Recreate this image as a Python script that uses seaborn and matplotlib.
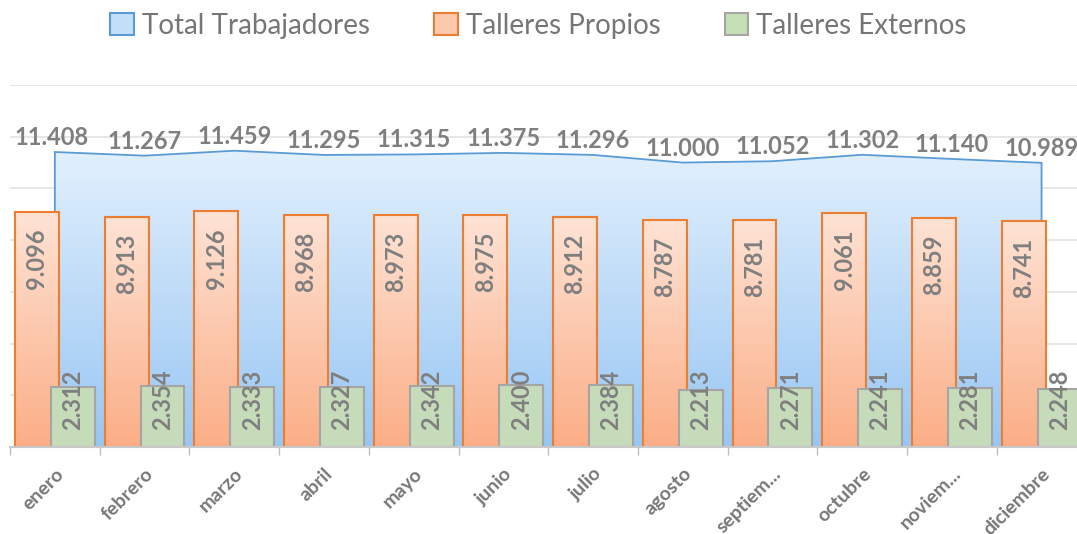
import numpy as np
import matplotlib
matplotlib.use("Agg")
import matplotlib.pyplot as plt
from matplotlib.patches import Patch, Polygon
from matplotlib.colors import to_rgba
import pandas as pd
import seaborn as sns

meses = ["enero", "febrero", "marzo", "abril", "mayo", "junio", "julio",
         "agosto", "septiem...", "octubre", "noviem...", "diciembre"]
total = [11408, 11267, 11459, 11295, 11315, 11375, 11296, 11000, 11052, 11302, 11140, 10989]
propios = [9096, 8913, 9126, 8968, 8973, 8975, 8912, 8787, 8781, 9061, 8859, 8741]
externos = [2312, 2354, 2333, 2327, 2342, 2400, 2384, 2213, 2271, 2241, 2281, 2248]
series = ["Total Trabajadores", "Talleres Propios", "Talleres Externos"]

GRAY = "#7f7f7f"


def fmt(v):
    return f"{v:,}".replace(",", ".")


def gradient(top, bottom, n=256):
    t = np.linspace(0, 1, n)[:, None]
    a = np.array(to_rgba(bottom))
    b = np.array(to_rgba(top))
    return (a + (b - a) * t)[:, None, :]


sns.set_theme(style="white")
plt.rcParams["font.family"] = ["Lato", "DejaVu Sans"]

fig = plt.figure(figsize=(10.77, 5.34), dpi=100)
ax = fig.add_axes([10 / 1077, 87 / 534, 1067 / 1077, 362 / 534])

# area: total trabajadores
xs = np.arange(len(meses))
verts = [(0, 0)] + list(zip(xs, total)) + [(xs[-1], 0)]
area = Polygon(verts, closed=False, facecolor="none", edgecolor="#5b9bd5", lw=1.3, zorder=2)
ax.add_patch(area)
im = ax.imshow(gradient("#e2f0fd", "#98c6f3"), extent=(0, xs[-1], 0, max(total)),
               origin="lower", aspect="auto", zorder=1)
im.set_clip_path(area)

# bars
df = pd.DataFrame({
    "mes": meses * 2,
    "valor": propios + externos,
    "serie": [series[1]] * 12 + [series[2]] * 12,
})
sns.barplot(data=df, x="mes", y="valor", hue="serie", order=meses,
            hue_order=series[1:], palette=["#fcc5a6", "#c5e0b4"],
            width=0.8, errorbar=None, legend=False, ax=ax)

bw = 0.49
bars = list(ax.patches)[-24:]
for k, p in enumerate(bars):
    c = p.get_x() + p.get_width() / 2
    p.set_x(c - bw / 2)
    p.set_width(bw)
    if k < 12:
        p.set_facecolor("none")
        p.set_edgecolor("#ed7d31")
        p.set_linewidth(1.5)
        p.set_zorder(4)
        g = ax.imshow(gradient("#fee3d5", "#fbae86"),
                      extent=(c - bw / 2, c + bw / 2, 0, p.get_height()),
                      origin="lower", aspect="auto", zorder=3)
        g.set_clip_path(p)
        ax.text(c, p.get_height() - 660, fmt(propios[k]), rotation=90,
                ha="center", va="top", fontsize=17, fontweight="bold", color=GRAY, zorder=6)
    else:
        p.set_edgecolor("#a5a5a5")
        p.set_linewidth(1.5)
        p.set_zorder(5)
        ax.text(c, 660, fmt(externos[k - 12]), rotation=90,
                ha="center", va="bottom", fontsize=17, fontweight="bold", color=GRAY, zorder=6)

for i, v in enumerate(total):
    ax.annotate(fmt(v), (i, v), xytext=(-3 if i == 0 else 0, 7), textcoords="offset pixels",
                ha="center", va="baseline", fontsize=17, fontweight="bold", color=GRAY, zorder=6)

ax.set_yticks(np.arange(0, 14001, 2000))
ax.set_yticklabels([])
ax.yaxis.grid(True, color="#e3e3e3", lw=1.2)
ax.set_axisbelow(True)
ax.tick_params(axis="y", length=0)

ax.set_xticks(xs)
ax.set_xticklabels(meses, rotation=45, ha="right", rotation_mode="anchor",
                   fontsize=14, fontweight="bold", color="#777777")
ax.set_xticks(np.arange(-0.5, 12, 1), minor=True)
ax.tick_params(axis="x", which="major", length=0, pad=13)
ax.tick_params(axis="x", which="minor", length=6, width=1, color="#bfbfbf", bottom=True)
ax.set_xlim(-0.5, -0.5 + 1067 / 89.7)
ax.set_ylim(0, 14000)
ax.set_xlabel("")
ax.set_ylabel("")
for s in ["top", "right", "left"]:
    ax.spines[s].set_visible(False)
ax.spines["bottom"].set_color("#c8c8c8")
ax.spines["bottom"].set_linewidth(1.5)
ax.spines["bottom"].set_zorder(7)

handles = [
    Patch(facecolor="#c3dffa", edgecolor="#5b9bd5", lw=1.5),
    Patch(facecolor="#fcc9ad", edgecolor="#ed7d31", lw=1.5),
    Patch(facecolor="#c5e0b4", edgecolor="#a5a5a5", lw=1.5),
]
fig.legend(handles, series, loc="center", bbox_to_anchor=(0.5, 1 - 26 / 534), ncol=3,
           frameon=False, fontsize=20, handlelength=0.85, handleheight=0.85,
           handletextpad=0.3, columnspacing=2.3, labelcolor="#767676")

fig.savefig("out.png", dpi=100)
